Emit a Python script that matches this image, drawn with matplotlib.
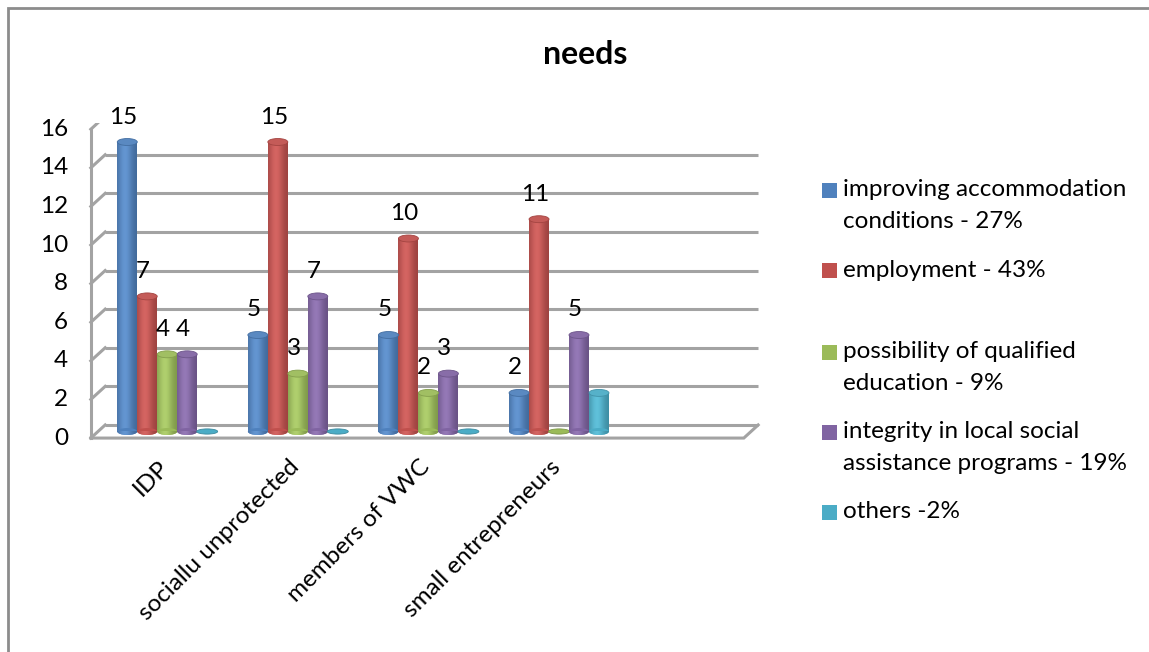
import numpy as np
import matplotlib.pyplot as plt
from matplotlib.patches import Ellipse, Rectangle
from matplotlib.colors import to_rgb

# survey counts per group
groups = ['IDP', 'sociallu unprotected', 'members of VWC', 'small entrepreneurs']
accommodation = [15, 5, 5, 2]
employment = [7, 15, 10, 11]
education = [4, 3, 2, 0]
integrity = [4, 7, 3, 5]
others = [0, 0, 0, 2]

series = [accommodation, employment, education, integrity, others]
series_names = ['improving accommodation\nconditions - 27%',
                'employment - 43%',
                'possibility of qualified\neducation - 9%',
                'integrity in local social\nassistance programs - 19%',
                'others -2%']
colors = ['#4F81BD', '#C0504D', '#9BBB59', '#8064A2', '#4BACC6']
labelled = [True, True, True, True, False]
y_ticks = [0, 2, 4, 6, 8, 10, 12, 14, 16]

plt.rcParams['font.family'] = ['Lato', 'DejaVu Sans']
FS = 17.5

W, H = 1149, 652
fig = plt.figure(figsize=(W / 100, H / 100), dpi=100)

# plot plane (middle depth of the pseudo-3D box), placed in pixels
PX_X0, PX_UNIT_X = 98, 130.6
PX_Y0, PX_UNIT_Y = 431.5, 19.3
XLIM = (-0.15, 5.15)
YLIM = (-1.0, 16.0)
left = (PX_X0 + XLIM[0] * PX_UNIT_X) / W
right = (PX_X0 + XLIM[1] * PX_UNIT_X) / W
bottom = 1 - (PX_Y0 - YLIM[0] * PX_UNIT_Y) / H
top = 1 - (PX_Y0 - YLIM[1] * PX_UNIT_Y) / H
ax = fig.add_axes([left, bottom, right - left, top - bottom])
ax.set_facecolor('none')
for s in ax.spines.values():
    s.set_visible(False)

DX, DY = 0.055, 0.34   # depth offset of back wall / front edge
BAR_W = 0.153
SHIFT = 0.03
CAP_H = 0.36
GRID = '#a3a3a3'
GLW = 2.2

# back wall gridlines and left wall
for v in y_ticks:
    ax.plot([DX, 5 + DX], [v + DY, v + DY], color=GRID, lw=GLW, zorder=1,
            solid_capstyle='butt')
    ax.plot([-DX, DX], [v - DY, v + DY], color=GRID, lw=GLW, zorder=1)
ax.plot([-DX, -DX], [-DY, 16 - DY], color=GRID, lw=GLW, zorder=1)
# floor front edge
ax.plot([-DX, 5 - DX, 5 + DX], [-DY, -DY, DY], color=GRID, lw=GLW, zorder=1,
        solid_joinstyle='miter')

# y tick labels on the front edge
for v in y_ticks:
    ax.text(-0.23, v - DY, str(v), ha='right', va='center', fontsize=FS)


def shade(color, n=40):
    t = np.linspace(0, 1, n)
    glow = np.exp(-((t - 0.4) / 0.38) ** 2)
    base = np.array(to_rgb(color))
    rgb = base[None, :] * (0.8 + 0.2 * glow[:, None]) + 0.08 * glow[:, None]
    return np.clip(rgb, 0, 1)[None, :, :]


def mix(color, amount):
    c = np.array(to_rgb(color))
    if amount >= 0:
        return tuple(c + (1 - c) * amount)
    return tuple(c * (1 + amount))


for k, (vals, col) in enumerate(zip(series, colors)):
    xs = [i + 0.5 + (k - 2) * BAR_W + SHIFT for i in range(len(groups))]
    grad = shade(col)
    bars = ax.bar(xs, vals, width=BAR_W, color=mix(col, -0.15), zorder=3, lw=0)
    for xc, v, rect in zip(xs, vals, bars):
        if v == 0:
            ax.add_patch(Ellipse((xc, 0), BAR_W * 1.05, CAP_H * 0.75,
                                 facecolor=col, edgecolor=mix(col, -0.2),
                                 lw=0.6, zorder=3))
            continue
        im = ax.imshow(grad, extent=(xc - BAR_W / 2, xc + BAR_W / 2, 0, v),
                       aspect='auto', interpolation='bilinear', zorder=3)
        im.set_clip_path(rect)
        foot = Ellipse((xc, 0), BAR_W, CAP_H, facecolor=col, lw=0, zorder=3)
        ax.add_patch(foot)
        im2 = ax.imshow(grad, extent=(xc - BAR_W / 2, xc + BAR_W / 2, -CAP_H / 2, 0),
                        aspect='auto', interpolation='bilinear', zorder=3)
        im2.set_clip_path(foot)
        ax.add_patch(Ellipse((xc, v), BAR_W, CAP_H, facecolor=mix(col, 0.06),
                             edgecolor=mix(col, -0.15), lw=0.6, zorder=3.2))
        if labelled[k]:
            ax.annotate(str(v), (xc, v), xytext=(-4, 25), textcoords='offset pixels',
                        ha='center', va='center', fontsize=FS, zorder=5)

ax.set_xlim(*XLIM)
ax.set_ylim(*YLIM)
ax.set_yticks([])
ax.set_xticks([i + 0.46 for i in range(len(groups))])
ax.set_xticklabels(groups, rotation=45, ha='right', va='top',
                   rotation_mode='anchor', fontsize=FS)
ax.tick_params(axis='x', length=0, pad=4)

# title
fig.text(585 / W, 1 - 55 / H, 'needs', ha='center', va='center',
         fontsize=23, fontweight='bold')

# legend
legend_rows = [190, 270, 352, 432, 512]
for name, col, y in zip(series_names, colors, legend_rows):
    fig.add_artist(Rectangle((822 / W, 1 - (y + 7.5) / H), 15 / W, 15 / H,
                             transform=fig.transFigure, facecolor=col, lw=0))
    for j, line in enumerate(name.split('\n')):
        fig.text(843 / W, 1 - (y + 32 * j) / H, line, ha='left', va='center',
                 fontsize=FS)

# outer chart border
fig.add_artist(Rectangle((8 / W, -0.1), 1.2, 1.1 - 8 / H, transform=fig.transFigure,
                         fill=False, edgecolor='#8c8c8c', lw=2))

fig.savefig('out.png', dpi=100)
